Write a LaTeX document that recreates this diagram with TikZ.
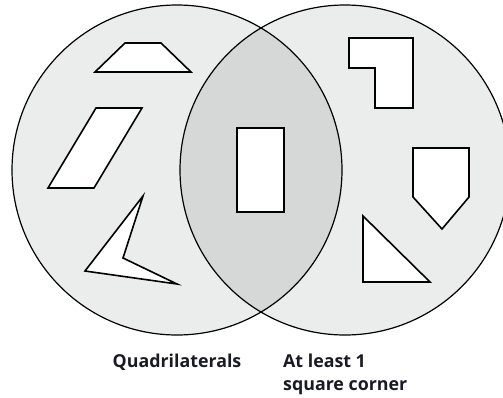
\documentclass[tikz,border=0pt]{standalone}
\usepackage{fontspec}
\setmainfont{Open Sans}
\definecolor{outerfill}{HTML}{EBECEC}
\definecolor{innerfill}{HTML}{D6D7D7}
\definecolor{labeltext}{HTML}{1A1A24}
\tikzset{
  shapeline/.style={draw=black, line width=1.6pt, fill=white, line join=miter},
  circleline/.style={draw=black, line width=1.2pt},
  setlabel/.style={font=\fontsize{17.8}{22}\selectfont\bfseries, text=labeltext, inner sep=0pt}
}
\begin{document}
\begin{tikzpicture}[x=1pt,y=-1pt]
\useasboundingbox (0,0) rectangle (503,397);
% circle fills
\fill[outerfill] (177,170) circle (165);
\fill[outerfill] (345,170) circle (165);
\begin{scope}
  \clip (177,170) circle (165);
  \fill[innerfill] (345,170) circle (165);
\end{scope}
\draw[circleline] (177,170) circle (165);
\draw[circleline] (345,170) circle (165);
% left shapes
\draw[shapeline] (95,72) -- (125,43) -- (161,43) -- (191,72) -- cycle;
\draw[shapeline] (48,188) -- (96,108) -- (142,108) -- (94,188) -- cycle;
\draw[shapeline] (143,196) -- (123,258) -- (177,284) -- (85,271) -- cycle;
% middle rectangle
\draw[shapeline] (237,128) rectangle (284,212);
% right shapes
\draw[shapeline] (349,38) -- (413,38) -- (413,108) -- (375,108) -- (375,68) -- (349,68) -- cycle;
\draw[shapeline] (413,148) -- (469,148) -- (469,197) -- (442,229) -- (413,197) -- cycle;
\draw[shapeline] (363,216) -- (363,282) -- (430,282) -- cycle;
% labels
\node[setlabel, anchor=base] (q) at (177,367) {Quadrilaterals};
\node[setlabel, anchor=base west] (s1) at (283,367) {At least 1};
\node[setlabel, anchor=base west] (s2) at (283,390) {square corner};
\end{tikzpicture}
\end{document}
